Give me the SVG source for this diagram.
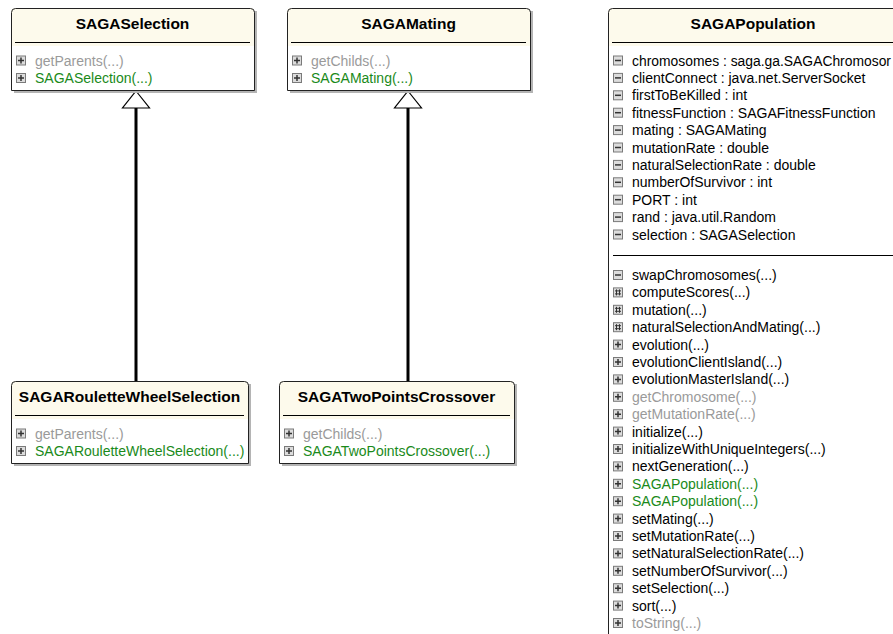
<svg xmlns="http://www.w3.org/2000/svg" width="893" height="634" viewBox="0 0 893 634">
<style>
text{font-family:"Liberation Sans",Arial,sans-serif;font-size:14px;fill:#000}
.title{font-weight:bold;font-size:15.5px;text-anchor:middle}
.gray{fill:#9a9a9a}
.green{fill:#1a8a1a}
.border{fill:none;stroke:#222;stroke-width:1}
.hdr{fill:#fdfaec}
.body{fill:#fff}
.shadow{fill:#b4b4b4}
.sep{stroke:#000;stroke-width:1}
.conn{stroke:#000;stroke-width:3;fill:none}
.tri{fill:#fff;stroke:#000;stroke-width:1.2}
</style>
<defs>
<g id="pub"><rect x="0.5" y="0.5" width="9" height="9" fill="#dcdcdc" stroke="#7a7a7a"/><path d="M2 5H8M5 2V8" stroke="#333" stroke-width="1.5"/></g>
<g id="priv"><rect x="0.5" y="0.5" width="9" height="9" fill="#dcdcdc" stroke="#7a7a7a"/><path d="M2 5H8" stroke="#333" stroke-width="1.5"/></g>
<g id="prot"><rect x="0.5" y="0.5" width="9" height="9" fill="#dcdcdc" stroke="#7a7a7a"/><path d="M3.5 2V8M6.5 2V8M2 3.5H8M2 6.5H8" stroke="#333" stroke-width="1"/></g>
</defs>
<rect width="893" height="634" fill="#fff"/>

<g id="connectors">
<path class="conn" d="M136 108V381"/>
<path class="tri" d="M136 91L149.5 108H122.5Z"/>
<path class="conn" d="M408 108V381"/>
<path class="tri" d="M408 91L421.5 108H394.5Z"/>
</g>

<g id="SAGASelection">
<rect class="shadow" x="14" y="11" width="243" height="82"/>
<rect class="body" x="11" y="8" width="243" height="82"/>
<path class="hdr" d="M11 46V12Q11 8 15 8H250Q254 8 254 12V46Z"/>
<path class="border" d="M11.5 90.5V12.5Q11.5 8.5 15.5 8.5H250.5Q254.5 8.5 254.5 12.5V90.5Z"/>
<line class="sep" x1="15" y1="42.5" x2="250" y2="42.5"/>
<text class="title" x="132.5" y="28.5">SAGASelection</text>
<use href="#pub" x="16" y="55.5"/><text class="gray" x="35" y="65.5">getParents(...)</text>
<use href="#pub" x="16" y="73"/><text class="green" x="35" y="83">SAGASelection(...)</text>
</g>

<g id="SAGAMating">
<rect class="shadow" x="290" y="11" width="243" height="82"/>
<rect class="body" x="287" y="8" width="243" height="82"/>
<path class="hdr" d="M287 46V12Q287 8 291 8H526Q530 8 530 12V46Z"/>
<path class="border" d="M287.5 90.5V12.5Q287.5 8.5 291.5 8.5H526.5Q530.5 8.5 530.5 12.5V90.5Z"/>
<line class="sep" x1="291" y1="42.5" x2="526" y2="42.5"/>
<text class="title" x="408.5" y="28.5">SAGAMating</text>
<use href="#pub" x="292" y="55.5"/><text class="gray" x="311" y="65.5">getChilds(...)</text>
<use href="#pub" x="292" y="73"/><text class="green" x="311" y="83">SAGAMating(...)</text>
</g>

<g id="SAGARouletteWheelSelection">
<rect class="shadow" x="14" y="384" width="237" height="82"/>
<rect class="body" x="11" y="381" width="237" height="82"/>
<path class="hdr" d="M11 419V385Q11 381 15 381H244Q248 381 248 385V419Z"/>
<path class="border" d="M11.5 463.5V385.5Q11.5 381.5 15.5 381.5H244.5Q248.5 381.5 248.5 385.5V463.5Z"/>
<line class="sep" x1="15" y1="415.5" x2="244" y2="415.5"/>
<text class="title" x="129.5" y="401.5">SAGARouletteWheelSelection</text>
<use href="#pub" x="16" y="428.5"/><text class="gray" x="35" y="438.5">getParents(...)</text>
<use href="#pub" x="16" y="446"/><text class="green" x="35" y="456">SAGARouletteWheelSelection(...)</text>
</g>

<g id="SAGATwoPointsCrossover">
<rect class="shadow" x="282" y="384" width="235" height="82"/>
<rect class="body" x="279" y="381" width="235" height="82"/>
<path class="hdr" d="M279 419V385Q279 381 283 381H510Q514 381 514 385V419Z"/>
<path class="border" d="M279.5 463.5V385.5Q279.5 381.5 283.5 381.5H510.5Q514.5 381.5 514.5 385.5V463.5Z"/>
<line class="sep" x1="283" y1="415.5" x2="510" y2="415.5"/>
<text class="title" x="396.5" y="401.5">SAGATwoPointsCrossover</text>
<use href="#pub" x="284" y="428.5"/><text class="gray" x="303" y="438.5">getChilds(...)</text>
<use href="#pub" x="284" y="446"/><text class="green" x="303" y="456">SAGATwoPointsCrossover(...)</text>
</g>

<g id="SAGAPopulation">
<rect class="body" x="608" y="8" width="300" height="640"/>
<path class="hdr" d="M608 46V12Q608 8 612 8H908V46Z"/>
<path class="border" d="M608.5 650V12.5Q608.5 8.5 612.5 8.5H908"/>
<line class="sep" x1="612" y1="42.5" x2="900" y2="42.5"/>
<text class="title" x="753" y="28.5">SAGAPopulation</text>
<use href="#priv" x="613" y="55.5"/><text x="632" y="65.5" textLength="259" lengthAdjust="spacingAndGlyphs">chromosomes : saga.ga.SAGAChromosor</text>
<use href="#priv" x="613" y="72.9"/><text x="632" y="82.9">clientConnect : java.net.ServerSocket</text>
<use href="#priv" x="613" y="90.3"/><text x="632" y="100.3">firstToBeKilled : int</text>
<use href="#priv" x="613" y="107.7"/><text x="632" y="117.7">fitnessFunction : SAGAFitnessFunction</text>
<use href="#priv" x="613" y="125.1"/><text x="632" y="135.1">mating : SAGAMating</text>
<use href="#priv" x="613" y="142.5"/><text x="632" y="152.5">mutationRate : double</text>
<use href="#priv" x="613" y="159.9"/><text x="632" y="169.9">naturalSelectionRate : double</text>
<use href="#priv" x="613" y="177.3"/><text x="632" y="187.3">numberOfSurvivor : int</text>
<use href="#priv" x="613" y="194.7"/><text x="632" y="204.7">PORT : int</text>
<use href="#priv" x="613" y="212.1"/><text x="632" y="222.1">rand : java.util.Random</text>
<use href="#priv" x="613" y="229.5"/><text x="632" y="239.5">selection : SAGASelection</text>
<line class="sep" x1="613" y1="255.5" x2="900" y2="255.5"/>
<use href="#priv" x="613" y="270"/><text x="632" y="280">swapChromosomes(...)</text>
<use href="#prot" x="613" y="287.4"/><text x="632" y="297.4">computeScores(...)</text>
<use href="#prot" x="613" y="304.8"/><text x="632" y="314.8">mutation(...)</text>
<use href="#prot" x="613" y="322.2"/><text x="632" y="332.2">naturalSelectionAndMating(...)</text>
<use href="#pub" x="613" y="339.6"/><text x="632" y="349.6">evolution(...)</text>
<use href="#pub" x="613" y="357"/><text x="632" y="367">evolutionClientIsland(...)</text>
<use href="#pub" x="613" y="374.4"/><text x="632" y="384.4">evolutionMasterIsland(...)</text>
<use href="#pub" x="613" y="391.8"/><text class="gray" x="632" y="401.8">getChromosome(...)</text>
<use href="#pub" x="613" y="409.2"/><text class="gray" x="632" y="419.2">getMutationRate(...)</text>
<use href="#pub" x="613" y="426.6"/><text x="632" y="436.6">initialize(...)</text>
<use href="#pub" x="613" y="444"/><text x="632" y="454">initializeWithUniqueIntegers(...)</text>
<use href="#pub" x="613" y="461.4"/><text x="632" y="471.4">nextGeneration(...)</text>
<use href="#pub" x="613" y="478.8"/><text class="green" x="632" y="488.8">SAGAPopulation(...)</text>
<use href="#pub" x="613" y="496.2"/><text class="green" x="632" y="506.2">SAGAPopulation(...)</text>
<use href="#pub" x="613" y="513.6"/><text x="632" y="523.6">setMating(...)</text>
<use href="#pub" x="613" y="531"/><text x="632" y="541">setMutationRate(...)</text>
<use href="#pub" x="613" y="548.4"/><text x="632" y="558.4">setNaturalSelectionRate(...)</text>
<use href="#pub" x="613" y="565.8"/><text x="632" y="575.8">setNumberOfSurvivor(...)</text>
<use href="#pub" x="613" y="583.2"/><text x="632" y="593.2">setSelection(...)</text>
<use href="#pub" x="613" y="600.6"/><text x="632" y="610.6">sort(...)</text>
<use href="#pub" x="613" y="618"/><text class="gray" x="632" y="628">toString(...)</text>
</g>
</svg>
